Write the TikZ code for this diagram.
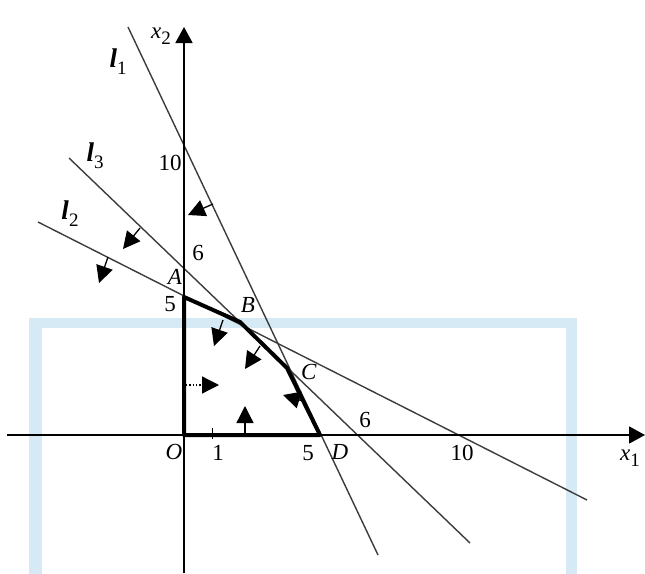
\documentclass[tikz,border=0pt]{standalone}
\usepackage{fontspec}
\setmainfont{Liberation Serif}
\usetikzlibrary{arrows.meta}
\definecolor{wm}{RGB}{214,234,246}
\definecolor{thinline}{RGB}{60,60,60}
\newcommand\subs[1]{\raisebox{-0.55ex}{\fontsize{19}{19}\selectfont #1}}
\tikzset{
  lbl/.style={inner sep=0pt, font=\fontsize{23}{26}\selectfont},
  axisline/.style={line width=1.8pt, -{Triangle[length=16pt,width=17pt]}},
  cline/.style={line width=1.4pt, draw=thinline},
  region/.style={line width=4pt, line join=round},
  dirarrow/.style={line width=1.3pt, -{Triangle[length=17pt,width=17pt]}},
}
\begin{document}
\begin{tikzpicture}[x=1pt,y=-1pt]
\useasboundingbox (0,0) rectangle (645,573);
% watermark frame
\fill[wm] (29,318) rectangle (577,580);
\fill[white] (42,328) rectangle (566,580);
% points
\coordinate (O) at (184,435);
\coordinate (A) at (184,297);
\coordinate (B) at (240,322);
\coordinate (C) at (287,368);
\coordinate (D) at (320,435);
\coordinate (xs) at (7,435);
\coordinate (xe) at (645,435);
\coordinate (ys) at (184,573);
\coordinate (ye) at (184,27);
\coordinate (l1a) at (128,27);
\coordinate (l1b) at (378,555);
\coordinate (l3a) at (69,158);
\coordinate (l3b) at (470,543);
\coordinate (l2a) at (38,222);
\coordinate (l2b) at (587,500);
\coordinate (t1a) at (212,428);
\coordinate (t1b) at (212,439);
% constraint lines
\draw[cline] (l1a) -- (l1b);
\draw[cline] (l3a) -- (l3b);
\draw[cline] (l2a) -- (l2b);
% axes
\draw[axisline] (xs) -- (xe);
\draw[axisline] (ys) -- (ye);
\draw[line width=0.9pt] (t1a) -- (t1b);
% feasible region
\draw[region] (O) -- (A) -- (B) -- (C) -- (D) -- cycle;
% direction arrows
\coordinate (d1a) at (213,204); \coordinate (d1b) at (188,215);
\coordinate (d2a) at (140,228); \coordinate (d2b) at (123,249);
\coordinate (d3a) at (108,257); \coordinate (d3b) at (99,283);
\coordinate (d4a) at (223,320); \coordinate (d4b) at (214,346);
\coordinate (d5a) at (260,346); \coordinate (d5b) at (245,369);
\coordinate (d6a) at (186,385); \coordinate (d6b) at (219,385);
\coordinate (d7a) at (245,435); \coordinate (d7b) at (245,406);
\coordinate (d8a) at (306,402); \coordinate (d8b) at (283,395);
\draw[dirarrow] (d1a) -- (d1b);
\draw[dirarrow] (d2a) -- (d2b);
\draw[dirarrow] (d3a) -- (d3b);
\draw[dirarrow] (d4a) -- (d4b);
\draw[dirarrow] (d5a) -- (d5b);
\draw[dirarrow, dotted] (d6a) -- (d6b);
\draw[dirarrow] (d7a) -- (d7b);
\draw[dirarrow] (d8a) -- (d8b);
% labels
\node[lbl] (lx2) at (161,36) {\textit{x}\subs{2}};
\node[lbl] (lx1) at (630,458) {\textit{x}\subs{1}};
\node[lbl] (ll1) at (118,62) {\fontsize{27}{27}\selectfont\textbf{\textit{l}}\subs{1}};
\node[lbl] (ll3) at (95,156) {\fontsize{27}{27}\selectfont\textbf{\textit{l}}\subs{3}};
\node[lbl] (ll2) at (70,214) {\fontsize{27}{27}\selectfont\textbf{\textit{l}}\subs{2}};
\node[lbl] (ly10) at (170,163) {10};
\node[lbl] (ly6) at (198,253) {6};
\node[lbl] (lA) at (175,277) {\textit{A}};
\node[lbl] (ly5) at (170,304) {5};
\node[lbl] (lB) at (248,305) {\textit{B}};
\node[lbl] (lC) at (309,372) {\textit{C}};
\node[lbl] (lO) at (174,452) {\textit{O}};
\node[lbl] (lx1t) at (218,453) {1};
\node[lbl] (lx5) at (308,453) {5};
\node[lbl] (lD) at (340,452) {\textit{D}};
\node[lbl] (lx6) at (365,420) {6};
\node[lbl] (lx10) at (462,453) {10};
\end{tikzpicture}
\end{document}
